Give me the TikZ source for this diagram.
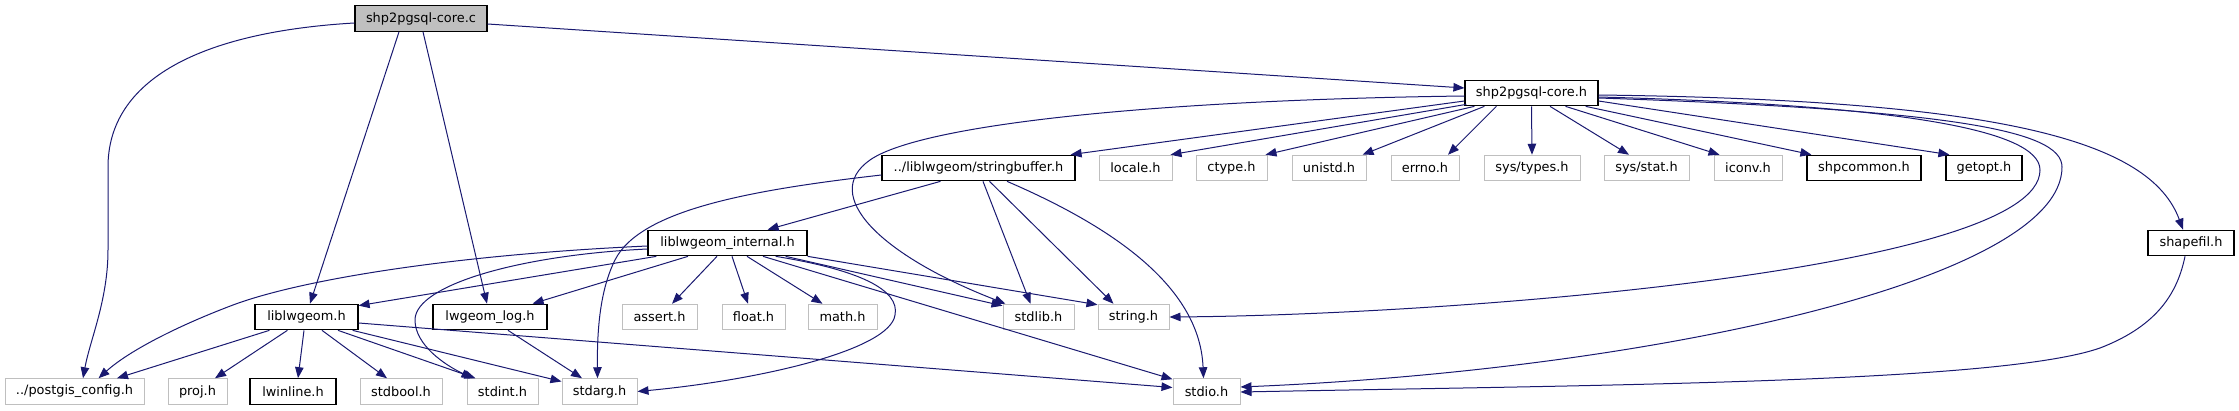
\documentclass[tikz,border=0pt]{standalone}
\usepackage{fontspec}
\setmainfont{DejaVu Sans}
\usetikzlibrary{arrows.meta,calc}
\definecolor{edgeblue}{HTML}{191970}
\definecolor{lgray}{HTML}{BFBFBF}
\tikzset{
 doc/.style={draw=black, line width=1.2pt, fill=white, minimum height=25.5pt, inner sep=0pt, font=\fontsize{12.9}{15}\selectfont},
 sys/.style={doc, draw=lgray, line width=1pt},
 root/.style={doc, fill=lgray},
 edge/.style={draw=edgeblue, line width=1pt, -{Triangle[length=11pt,width=8.5pt]}},
}
\begin{document}
\begin{tikzpicture}[x=1pt,y=-1pt]
\useasboundingbox (0,0) rectangle (2239,411);
% row 0
\node[root, minimum width=132pt] (nc) at (421,18.5) {shp2pgsql-core.c};
% row 1
\node[doc, minimum width=133pt] (nh) at (1531.5,93) {shp2pgsql-core.h};
% row 2
\node[doc, minimum width=193pt] (nsb) at (978.5,168) {../liblwgeom/stringbuffer.h};
\node[sys, minimum width=73pt] (nlocale) at (1135.5,168) {locale.h};
\node[sys, minimum width=71pt] (nctype) at (1231.5,168) {ctype.h};
\node[sys, minimum width=74pt] (nunistd) at (1329,168) {unistd.h};
\node[sys, minimum width=68pt] (nerrno) at (1425,168) {errno.h};
\node[sys, minimum width=96pt] (nsystypes) at (1532,168) {sys/types.h};
\node[sys, minimum width=85pt] (nsysstat) at (1646.5,168) {sys/stat.h};
\node[sys, minimum width=68pt] (niconv) at (1748,168) {iconv.h};
\node[doc, minimum width=114pt] (nshpcommon) at (1864,168) {shpcommon.h};
\node[doc, minimum width=76pt] (ngetopt) at (1984,168) {getopt.h};
% row 3
\node[doc, minimum width=159pt] (ninternal) at (727.5,243) {liblwgeom\_internal.h};
\node[doc, minimum width=86pt] (nshapefil) at (2191,243) {shapefil.h};
% row 4
\node[doc, minimum width=103pt] (nliblwgeom) at (306.5,317) {liblwgeom.h};
\node[doc, minimum width=114pt] (nlog) at (490,317) {lwgeom\_log.h};
\node[sys, minimum width=75pt] (nassert) at (659.5,317) {assert.h};
\node[sys, minimum width=63pt] (nfloat) at (753.5,317) {float.h};
\node[sys, minimum width=69pt] (nmath) at (842.5,317) {math.h};
\node[sys, minimum width=71pt] (nstdlib) at (1038.5,317) {stdlib.h};
\node[sys, minimum width=71pt] (nstring) at (1133.5,317) {string.h};
% row 5
\node[sys, minimum width=139pt] (npostgis) at (74.5,391.5) {../postgis\_config.h};
\node[sys, minimum width=59pt] (nproj) at (197.5,391.5) {proj.h};
\node[doc, minimum width=86pt] (nlwinline) at (293,391.5) {lwinline.h};
\node[sys, minimum width=82pt] (nstdbool) at (401,391.5) {stdbool.h};
\node[sys, minimum width=71pt] (nstdint) at (502.5,391.5) {stdint.h};
\node[sys, minimum width=75pt] (nstdarg) at (599.5,391.5) {stdarg.h};
\node[sys, minimum width=67pt] (nstdio) at (1206.5,391.5) {stdio.h};

% edges from shp2pgsql-core.c
\draw[edge] ($(nc.south)+(-22,0)$) -- ($(nliblwgeom.north)+(3.5,0)$);
\draw[edge] ($(nc.south)+(2,0)$) -- ($(nlog.north)+(-3,0)$);
\draw[edge] ($(nc.east)+(0,5.5)$) -- ($(nh.west)+(0,-5)$);
\draw[edge] ($(nc.west)+(0,4.5)$) .. controls (200,32) and (108,80) .. (108,167) -- (108,250) .. controls (108,300) and (90,340) .. ($(npostgis.north)+(8.5,0)$);

% edges from shp2pgsql-core.h
\draw[edge] ($(nh.west)+(0,8)$) -- ($(nsb.north east)+(-5,0)$);
\draw[edge] ($(nh.south west)+(2,-2)$) -- ($(nlocale.north east)+(-2,0)$);
\draw[edge] ($(nh.south west)+(10,0)$) -- ($(nctype.north east)+(-2,0)$);
\draw[edge] ($(nh.south west)+(20,0)$) -- ($(nunistd.north east)+(-4,0)$);
\draw[edge] ($(nh.south west)+(32,0)$) -- ($(nerrno.north)+(23,0)$);
\draw[edge] (nh.south) -- (nsystypes.north);
\draw[edge] ($(nh.south)+(18.5,0)$) -- ($(nsysstat.north)+(-17.5,0)$);
\draw[edge] ($(nh.south)+(34,0)$) -- ($(niconv.north west)+(6,0)$);
\draw[edge] ($(nh.south east)+(-13,0)$) -- ($(nshpcommon.north west)+(5,0)$);
\draw[edge] ($(nh.east)+(0,8)$) -- ($(ngetopt.north west)+(4,0)$);
\draw[edge] ($(nh.west)+(0,3)$) .. controls (1150,100) and (920,125) .. (870,160) .. controls (820,195) and (880,255) .. ($(nstdlib.north west)+(3,0)$);
\draw[edge] ($(nh.east)+(0,4)$) .. controls (1900,105) and (2040,130) .. (2040,170) .. controls (2040,270) and (1450,315) .. (nstring.east);
\draw[edge] ($(nh.east)+(0,5)$) .. controls (1950,110) and (2062,130) .. (2062,167) .. controls (2062,280) and (1650,370) .. ($(nstdio.east)+(0,-4.5)$);
\draw[edge] ($(nh.east)+(0,2)$) .. controls (2000,100) and (2150,140) .. ($(nshapefil.north)+(-8,0)$);

% shapefil.h
\draw[edge] ($(nshapefil.south)+(-6,0)$) .. controls (2178,290) and (2160,325) .. (2100,348) .. controls (2000,383) and (1600,385) .. ($(nstdio.east)+(0,0.5)$);

% stringbuffer.h
\draw[edge] ($(nsb.south)+(-38,0)$) -- ($(ninternal.north east)+(-40,0)$);
\draw[edge] ($(nsb.west)+(0,7)$) .. controls (750,190) and (640,210) .. (615,260) .. controls (600,290) and (597,330) .. ($(nstdarg.north)+(-2,0)$);
\draw[edge] ($(nsb.south)+(4.5,0)$) -- ($(nstdlib.north)+(-8,0)$);
\draw[edge] ($(nsb.south)+(11,0)$) -- ($(nstring.north)+(-20,0)$);
\draw[edge] ($(nsb.south)+(28.5,0)$) .. controls (1120,230) and (1200,290) .. ($(nstdio.north)+(-3,0)$);

% liblwgeom_internal.h
\draw[edge] ($(ninternal.west)+(0,3)$) .. controls (450,255) and (300,280) .. (233,305) .. controls (180,325) and (130,350) .. ($(npostgis.north)+(24,0)$);
\draw[edge] ($(ninternal.west)+(0,6)$) .. controls (520,255) and (415,285) .. (415,320) .. controls (415,345) and (445,365) .. ($(nstdint.north west)+(6,0)$);
\draw[edge] ($(ninternal.south west)+(9,0)$) -- ($(nliblwgeom.north east)+(0,2)$);
\draw[edge] ($(ninternal.south)+(-39.5,0)$) -- ($(nlog.north east)+(-15,0)$);
\draw[edge] ($(ninternal.south)+(-10.5,0)$) -- ($(nassert.north)+(12.5,0)$);
\draw[edge] ($(ninternal.south)+(4.5,0)$) -- ($(nfloat.north)+(-5.5,0)$);
\draw[edge] ($(ninternal.south)+(19.5,0)$) -- ($(nmath.north west)+(15,0)$);
\draw[edge] ($(ninternal.south)+(35.5,0)$) -- ($(nstdio.north west)+(0,1)$);
\draw[edge] ($(ninternal.south east)+(-22,0)$) -- ($(nstdlib.north west)+(0,2)$);
\draw[edge] ($(ninternal.south east)+(-32,0)$) .. controls (860,270) and (900,290) .. (895,315) .. controls (890,350) and (760,380) .. (nstdarg.east);
\draw[edge] (ninternal.south east) -- ($(nstring.north west)+(0,1)$);

% liblwgeom.h
\draw[edge] ($(nliblwgeom.south west)+(15,0)$) -- ($(npostgis.north)+(42.5,0)$);
\draw[edge] ($(nliblwgeom.south west)+(33,0)$) -- ($(nproj.north)+(17.5,0)$);
\draw[edge] ($(nliblwgeom.south)+(-2.5,0)$) -- ($(nlwinline.north)+(5,0)$);
\draw[edge] ($(nliblwgeom.south)+(15.5,0)$) -- ($(nstdbool.north)+(-14,0)$);
\draw[edge] ($(nliblwgeom.south)+(31.5,0)$) -- ($(nstdint.north west)+(9,0)$);
\draw[edge] ($(nliblwgeom.south east)+(-6,0)$) -- ($(nstdarg.west)+(0,-10)$);
\draw[edge] ($(nliblwgeom.east)+(0,6)$) -- ($(nstdio.west)+(0,-4)$);

% lwgeom_log.h
\draw[edge] ($(nlog.south)+(18,0)$) -- ($(nstdarg.north)+(-17.5,0)$);
\end{tikzpicture}
\end{document}
